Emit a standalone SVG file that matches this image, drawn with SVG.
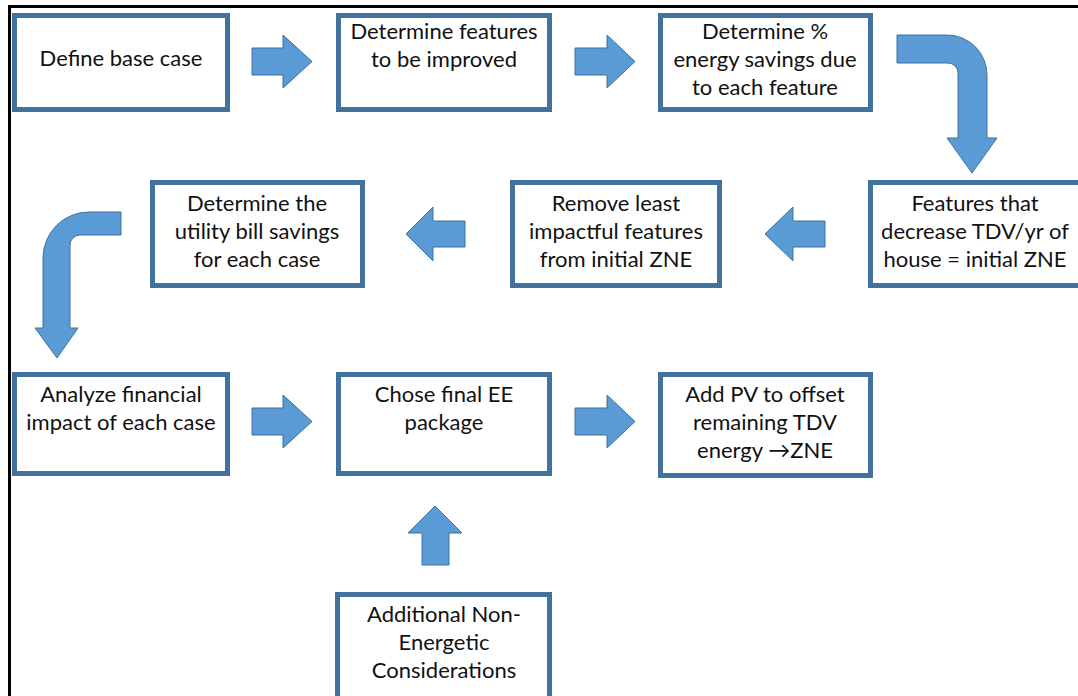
<svg xmlns="http://www.w3.org/2000/svg" width="1078" height="696" viewBox="0 0 1078 696">
  <style>
    .box { fill: #ffffff; stroke: #41719c; stroke-width: 5; }
    .arrow { fill: #5b9bd5; stroke: #41719c; stroke-width: 1; }
    .lbl { font-family: Lato, "Liberation Sans", sans-serif; font-size: 22px; fill: #111111; text-anchor: middle; }
    .frame { stroke: #000000; stroke-width: 3; fill: none; }
  </style>

  <rect x="0" y="0" width="1078" height="696" fill="#ffffff"/>
  <!-- page frame -->
  <path class="frame" d="M9.5,696 V6.5 H1078"/>

  <!-- connectors: block arrows -->
  <g id="connectors">
    <!-- row 1 -->
    <path class="arrow" d="M252,48 H283 V35 L312,61.5 L283,88 V75 H252 Z"/>
    <path class="arrow" d="M575,48 H607 V35 L635,61.5 L607,88 V75 H575 Z"/>
    <!-- bent arrow down to row 2 -->
    <path class="arrow" d="M897,35 H947 A40,40 0 0 1 987,75 V138 H997 L972,173 L947,138 H958 V73 A10,10 0 0 0 948,63 H897 Z"/>
    <!-- row 2, pointing left -->
    <path class="arrow" d="M825,221 H793 V207 L765,234 L793,261 V247 H825 Z"/>
    <path class="arrow" d="M465,221 H433 V207 L406,234 L433,261 V247 H465 Z"/>
    <!-- bent arrow down to row 3 -->
    <path class="arrow" d="M121,212 H89 A46,46 0 0 0 43,258 V328 H35 L57,358 L78,328 H70 V245 A10,10 0 0 1 80,235 H121 Z"/>
    <!-- row 3 -->
    <path class="arrow" d="M252,408 H283 V395 L312,421.5 L283,448 V435 H252 Z"/>
    <path class="arrow" d="M575,408 H607 V395 L635,421.5 L607,448 V435 H575 Z"/>
    <!-- upward arrow into final package -->
    <path class="arrow" d="M422,565 V533 H408 L435,506 L462,533 H449 V565 Z"/>
  </g>

  <g id="define-base-case">
    <rect class="box" x="14.5" y="15.5" width="213" height="94"/>
    <text class="lbl" x="121" y="66">Define base case</text>
  </g>

  <g id="determine-features">
    <rect class="box" x="338.5" y="15.5" width="211" height="94"/>
    <text class="lbl" x="444" y="39">Determine features</text>
    <text class="lbl" x="444" y="67">to be improved</text>
  </g>

  <g id="determine-savings">
    <rect class="box" x="660.5" y="15.5" width="210" height="94"/>
    <text class="lbl" x="765" y="39">Determine %</text>
    <text class="lbl" x="765" y="67">energy savings due</text>
    <text class="lbl" x="765" y="95">to each feature</text>
  </g>

  <g id="initial-zne">
    <rect class="box" x="870.5" y="182.5" width="215" height="103"/>
    <text class="lbl" x="975" y="211">Features that</text>
    <text class="lbl" x="975" y="239">decrease TDV/yr of</text>
    <text class="lbl" x="975" y="267">house = initial ZNE</text>
  </g>

  <g id="remove-least">
    <rect class="box" x="512.5" y="182.5" width="207" height="103"/>
    <text class="lbl" x="616" y="211">Remove least</text>
    <text class="lbl" x="616" y="239">impactful features</text>
    <text class="lbl" x="616" y="267">from initial ZNE</text>
  </g>

  <g id="utility-savings">
    <rect class="box" x="152.5" y="182.5" width="210" height="103"/>
    <text class="lbl" x="257" y="211">Determine the</text>
    <text class="lbl" x="257" y="239">utility bill savings</text>
    <text class="lbl" x="257" y="267">for each case</text>
  </g>

  <g id="financial-impact">
    <rect class="box" x="14.5" y="374.5" width="213" height="99"/>
    <text class="lbl" x="121" y="402">Analyze financial</text>
    <text class="lbl" x="121" y="430">impact of each case</text>
  </g>

  <g id="final-package">
    <rect class="box" x="338.5" y="374.5" width="211" height="99"/>
    <text class="lbl" x="444" y="402">Chose final EE</text>
    <text class="lbl" x="444" y="430">package</text>
  </g>

  <g id="add-pv">
    <rect class="box" x="660.5" y="374.5" width="210" height="101"/>
    <text class="lbl" x="765" y="402">Add PV to offset</text>
    <text class="lbl" x="765" y="430">remaining TDV</text>
    <text class="lbl" x="765" y="458">energy →ZNE</text>
  </g>

  <g id="non-energetic">
    <rect class="box" x="337.5" y="594.5" width="212" height="110"/>
    <text class="lbl" x="444" y="622">Additional Non-</text>
    <text class="lbl" x="444" y="650">Energetic</text>
    <text class="lbl" x="444" y="678">Considerations</text>
  </g>
</svg>
